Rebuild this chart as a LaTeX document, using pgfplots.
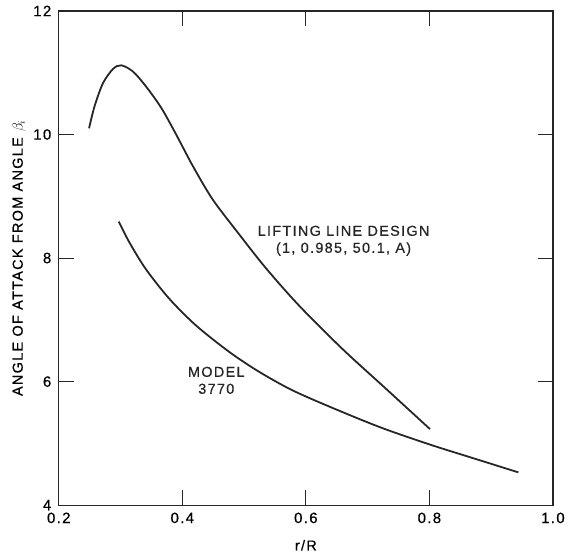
\documentclass[border=0pt]{standalone}
\usepackage{pgfplots}
\pgfplotsset{compat=1.18}
\usepackage{fontspec}
\setmainfont{Liberation Sans}[LetterSpace=9, FakeBold=0.5]

\begin{document}
\begin{tikzpicture}[font=\fontsize{14.5}{17}\selectfont]
\begin{axis}[
  scale only axis,
  width=496pt, height=496pt,
  xmin=0.2, xmax=1.0, ymin=4, ymax=12,
  xtick={0.2,0.4,0.6,0.8,1.0},
  ytick={4,6,8,10,12},
  xticklabels={0.2,0.4,0.6,0.8,1.0},
  /pgf/number format/assume math mode=true,
  every axis/.append style={font=\fontsize{14.5}{17}\selectfont},
  tick label style={font=\fontsize{15}{17}\selectfont},
  tick align=inside,
  major tick length=15pt,
  tick style={line width=0.9pt, black!85},
  axis line style={line width=1.2pt, black!85},
  xticklabel style={yshift=-4pt},
  yticklabel style={xshift=-4pt},
  xlabel={r/R},
  ylabel={ANGLE OF ATTACK FROM ANGLE $\beta_i$},
  xlabel style={yshift=-10pt},
  ylabel style={yshift=1pt},
  clip=false,
]
\coordinate (sw) at (rel axis cs:0,0);
\coordinate (ne) at (rel axis cs:1,1);

% lifting line design (1, 0.985, 50.1, A)
\addplot[line width=1.8pt, black!85, smooth] coordinates {
  (0.249,10.10) (0.258,10.46) (0.2715,10.83) (0.2877,11.06) (0.301,11.12)
  (0.320,11.02) (0.341,10.78) (0.366,10.43) (0.390,10.00) (0.417,9.49)
  (0.449,8.95) (0.490,8.41) (0.535,7.84) (0.589,7.23) (0.659,6.53)
  (0.729,5.89) (0.801,5.23)
};

% model 3770
\addplot[line width=1.8pt, black!85, smooth] coordinates {
  (0.297,8.59) (0.3145,8.25) (0.341,7.82) (0.379,7.34) (0.422,6.91)
  (0.476,6.48) (0.524,6.16) (0.578,5.86) (0.644,5.57) (0.723,5.25)
  (0.804,4.97) (0.874,4.75) (0.944,4.53)
};

\node[align=center, text=black!85, inner sep=0pt] at (axis cs:0.661,8.28)
  {LIFTING LINE DESIGN\\(1, 0.985, 50.1, A)};
\node[align=center, text=black!85, inner sep=0pt] at (axis cs:0.455,6.02)
  {MODEL\\3770};
\end{axis}
\useasboundingbox ([shift={(-59pt,-53pt)}]sw) rectangle ([shift={(13pt,11pt)}]ne);
\end{tikzpicture}
\end{document}
